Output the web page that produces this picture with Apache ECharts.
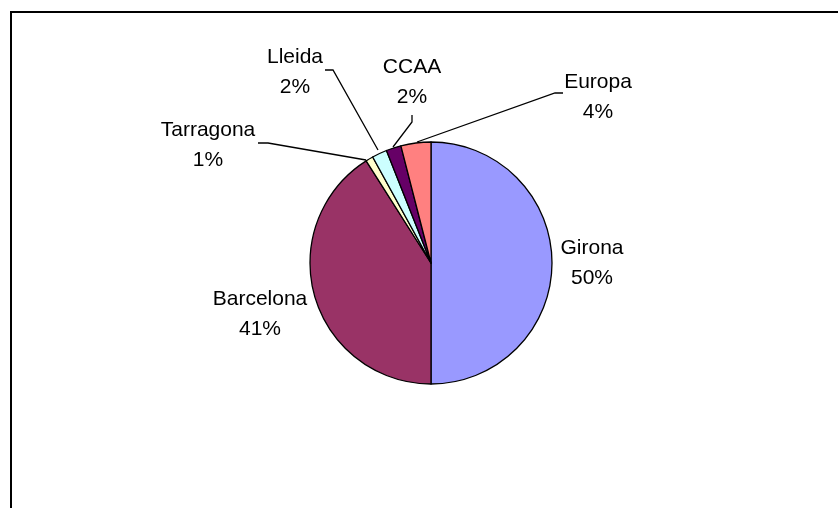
<!DOCTYPE html>
<html>
<head>
<meta charset="utf-8">
<script src="https://cdn.jsdelivr.net/npm/echarts@6/dist/echarts.min.js"></script>
<style>html,body{margin:0;padding:0;background:#fff;}#c{width:838px;height:508px;}</style>
</head>
<body>
<div id="c"></div>
<script>
var categories = ['Girona', 'Barcelona', 'Tarragona', 'Lleida', 'CCAA', 'Europa'];
var values = [50, 41, 1, 2, 2, 4];
var colors = ['#9999FF', '#993366', '#FFFFCC', '#CCFFFF', '#660066', '#FF8080'];
// label placement (layout only)
var labelCenters = [[592, 263], [260, 314], [208, 145], [295, 72], [412, 82], [598, 97]];
var leaderLines = [
  null,
  null,
  [[258, 143], [268, 143], [366, 160]],
  [[325, 70], [333, 70], [378, 150]],
  [[412, 115], [412, 122], [393, 147]],
  [[563, 93], [555, 93], [417, 142]]
];

var chart = echarts.init(document.getElementById('c'), null, {renderer: 'canvas'});
var data = categories.map(function (n, i) {
  return {
    name: n,
    value: values[i],
    itemStyle: {color: colors[i]},
    labelLine: {show: leaderLines[i] !== null}
  };
});
chart.setOption({
  animation: false,
  backgroundColor: '#ffffff',
  graphic: [{
    type: 'rect',
    shape: {x: 11, y: 12, width: 900, height: 600},
    style: {fill: 'none', stroke: '#000', lineWidth: 2},
    silent: true
  }],
  series: [{
    type: 'pie',
    center: [431, 263],
    radius: 121,
    startAngle: 90,
    clockwise: true,
    percentPrecision: 0,
    avoidLabelOverlap: false,
    data: data,
    itemStyle: {borderColor: '#000', borderWidth: 1.3},
    label: {
      show: true,
      formatter: '{b}\n{d}%',
      fontFamily: 'Liberation Sans, Arial, sans-serif',
      fontSize: 21,
      lineHeight: 30,
      color: '#000',
      align: 'center'
    },
    labelLine: {show: true, lineStyle: {color: '#000', width: 1.3}},
    labelLayout: function (p) {
      var i = p.dataIndex;
      var r = {
        x: labelCenters[i][0],
        y: labelCenters[i][1],
        align: 'center',
        verticalAlign: 'middle'
      };
      if (leaderLines[i]) r.labelLinePoints = leaderLines[i];
      return r;
    },
    emphasis: {disabled: true}
  }]
});
</script>
</body>
</html>
